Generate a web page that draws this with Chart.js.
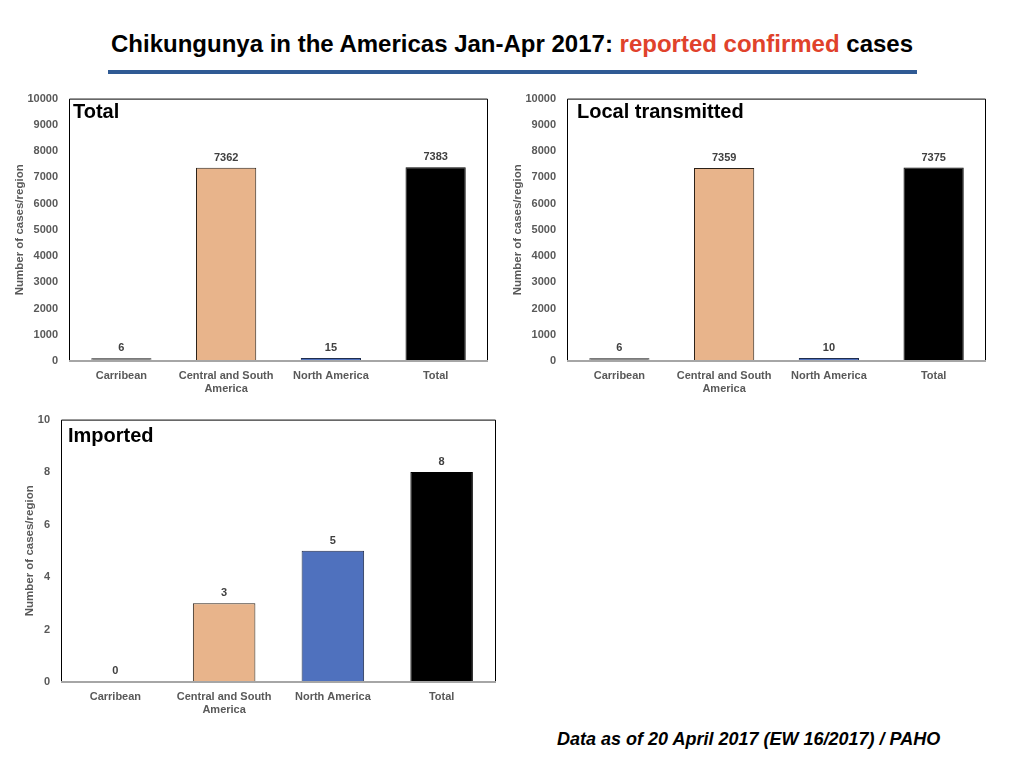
<!DOCTYPE html>
<html>
<head>
<meta charset="utf-8">
<script src="https://cdn.jsdelivr.net/npm/chart.js@4/dist/chart.umd.min.js"></script>
<style>
    body { margin: 0; width: 1024px; height: 768px; background: #fff; position: relative; overflow: hidden;
           font-family: 'Liberation Sans', Arial, sans-serif; }
    #title { position: absolute; left: 0; width: 1024px; top: 30px; text-align: center;
             font-size: 24px; font-weight: bold; color: #000; }
    #title .red { color: #e0422b; }
    #rule { position: absolute; left: 108px; width: 809px; top: 70px; height: 4px; background: #2f5a94; }
    #source { position: absolute; left: 557px; top: 729px; font-size: 18px; font-weight: bold; font-style: italic; }
    canvas { position: absolute; }
</style>
</head>
<body>
<div id="title">Chikungunya in the Americas Jan-Apr 2017: <span class="red">reported confirmed</span> cases</div>
<div id="rule"></div>
<canvas id="totalChart" width="500" height="324" style="left:0;top:81px;width:500px;height:324px"></canvas>
<canvas id="localChart" width="500" height="324" style="left:500px;top:81px;width:500px;height:324px"></canvas>
<canvas id="importedChart" width="510" height="323" style="left:0;top:402px;width:510px;height:323px"></canvas>
<div id="source">Data as of 20 April 2017 (EW 16/2017) / PAHO</div>

<script>
const categories = ['Carribean', ['Central and South', 'America'], 'North America', 'Total'];
const totalCases = [6, 7362, 15, 7383];
const localCases = [6, 7359, 10, 7375];
const importedCases = [0, 3, 5, 8];

const barColours = ['#8a8a8a', '#e8b48b', '#4f71be', '#000000'];
const barBorders = ['#7a7a7a', '#2b2118', '#1f2d4d', '#000000'];
const labelGrey = '#595959';
const fontFamily = "'Liberation Sans', Arial, sans-serif";

// frame round the plot area, grey base line, value labels and panel name
const panelPlugin = {
    id: 'panel',
    afterDatasetsDraw(chart, args, opts) {
        const ctx = chart.ctx;
        const area = chart.chartArea;
        ctx.save();
        ctx.strokeStyle = '#000';
        ctx.lineWidth = 1;
        ctx.beginPath();
        ctx.moveTo(area.left + 0.5, area.bottom);
        ctx.lineTo(area.left + 0.5, area.top + 0.5);
        ctx.lineTo(area.right - 0.5, area.top + 0.5);
        ctx.lineTo(area.right - 0.5, area.bottom);
        ctx.stroke();
        ctx.strokeStyle = '#a6a6a6';
        ctx.lineWidth = 2;
        ctx.beginPath();
        ctx.moveTo(area.left, area.bottom);
        ctx.lineTo(area.right, area.bottom);
        ctx.stroke();

        const meta = chart.getDatasetMeta(0);
        const values = chart.data.datasets[0].data;
        ctx.fillStyle = '#404040';
        ctx.font = `bold 11px ${fontFamily}`;
        ctx.textAlign = 'center';
        ctx.textBaseline = 'middle';
        meta.data.forEach((bar, i) => {
            ctx.fillText(String(values[i]), bar.x, Math.min(bar.y, area.bottom - 1) - 10);
        });

        ctx.fillStyle = '#000';
        ctx.font = `bold 20px ${fontFamily}`;
        ctx.textAlign = 'left';
        ctx.fillText(opts.name, area.left + opts.dx, area.top + opts.dy);
        ctx.restore();
    },
};

function renderPanel(elementId, values, name, layout) {
    const ctx = document.getElementById(elementId).getContext('2d');
    new Chart(ctx, {
        type: 'bar',
        data: {
            labels: categories,
            datasets: [
                {
                    data: values,
                    backgroundColor: barColours,
                    borderColor: barBorders,
                    borderWidth: 1,
                    borderSkipped: 'bottom',
                    barPercentage: 0.575,
                    categoryPercentage: 1,
                    minBarLength: layout.minBar,
                },
            ],
        },
        options: {
            responsive: false,
            animation: false,
            layout: { padding: { top: 0, right: layout.right, left: 0, bottom: 0 } },
            plugins: {
                legend: { display: false },
                tooltip: { enabled: false },
                panel: { name, dx: layout.dx, dy: layout.dy },
            },
            scales: {
                x: {
                    grid: { display: false, drawTicks: false },
                    border: { display: false },
                    ticks: {
                        color: labelGrey,
                        font: { family: fontFamily, size: 11, weight: 'bold', lineHeight: 1.2 },
                        padding: 8,
                        maxRotation: 0,
                        autoSkip: false,
                    },
                    afterFit: (scale) => { scale.height = layout.xHeight; },
                },
                y: {
                    min: 0,
                    max: layout.max,
                    grid: { display: false, drawTicks: false },
                    border: { display: false },
                    ticks: {
                        stepSize: layout.step,
                        color: labelGrey,
                        font: { family: fontFamily, size: 11, weight: 'bold' },
                        padding: 11,
                        callback: (value) => String(value),
                    },
                    title: {
                        display: true,
                        text: 'Number of cases/region',
                        color: labelGrey,
                        font: { family: fontFamily, size: 11.5, weight: 'bold' },
                        padding: { top: layout.titlePad, bottom: 0 },
                    },
                    afterFit: (scale) => { scale.width = layout.yWidth; },
                },
            },
        },
        plugins: [panelPlugin],
    });
}

renderPanel('totalChart', totalCases, 'Total',
    { right: 12, yWidth: 69, xHeight: 44, max: 10000, step: 1000, titlePad: 13, minBar: 3, dx: 4, dy: 14 });
renderPanel('localChart', localCases, 'Local transmitted',
    { right: 14, yWidth: 67, xHeight: 44, max: 10000, step: 1000, titlePad: 11, minBar: 3, dx: 10, dy: 14 });
renderPanel('importedChart', importedCases, 'Imported',
    { right: 14, yWidth: 61, xHeight: 43, max: 10, step: 2, titlePad: 23, minBar: 0, dx: 7, dy: 17 });
</script>
</body>
</html>
